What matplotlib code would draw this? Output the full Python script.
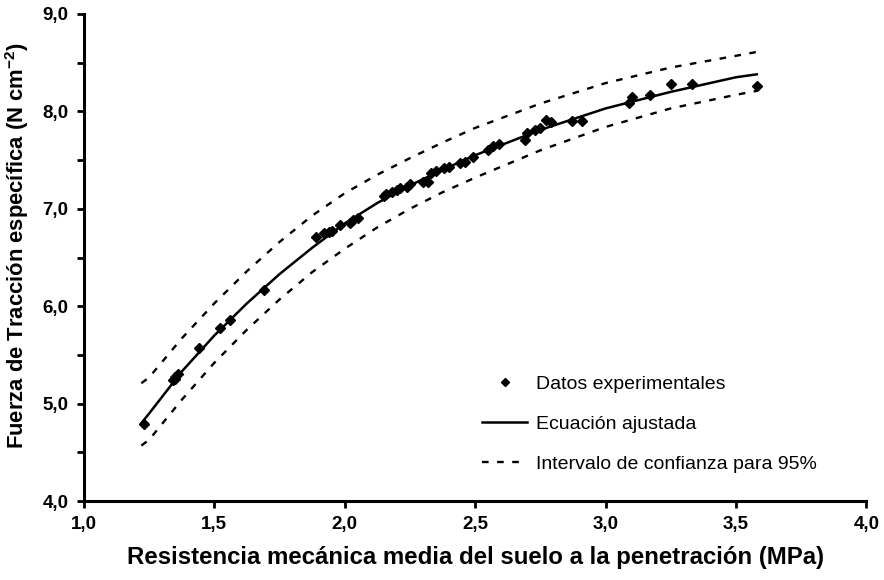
import numpy as np
import matplotlib
matplotlib.use('Agg')
import matplotlib.pyplot as plt
from matplotlib.ticker import MultipleLocator, FuncFormatter

plt.rcParams['font.family'] = ['Liberation Sans', 'DejaVu Sans']
plt.rcParams['mathtext.fontset'] = 'custom'
plt.rcParams['mathtext.bf'] = 'Liberation Sans:bold'

x_data = [1.23, 1.34, 1.35, 1.35, 1.36, 1.44, 1.52, 1.56, 1.69,
          1.89, 1.92, 1.94, 1.95, 1.98, 2.02, 2.03, 2.05,
          2.15, 2.16, 2.18, 2.20, 2.21, 2.24, 2.25, 2.30, 2.32,
          2.33, 2.35, 2.38, 2.40, 2.44, 2.46, 2.49, 2.55, 2.57, 2.59,
          2.69, 2.70, 2.73, 2.75, 2.77, 2.79, 2.87, 2.91,
          3.09, 3.10, 3.17, 3.25, 3.33, 3.58]
y_data = [4.79, 5.24, 5.27, 5.25, 5.30, 5.57, 5.78, 5.86, 6.17,
          6.71, 6.75, 6.76, 6.77, 6.83, 6.85, 6.89, 6.91,
          7.13, 7.15, 7.17, 7.19, 7.21, 7.22, 7.25, 7.27, 7.27,
          7.37, 7.39, 7.42, 7.43, 7.47, 7.48, 7.53, 7.60, 7.64, 7.67,
          7.71, 7.78, 7.81, 7.83, 7.91, 7.89, 7.90, 7.90,
          8.09, 8.15, 8.17, 8.28, 8.28, 8.26]

# fitted curve and 95% confidence limits
x_fit = [1.22, 1.25, 1.375, 1.5, 1.625, 1.75, 1.875, 2.0, 2.125, 2.25, 2.375,
         2.5, 2.75, 3.0, 3.25, 3.5, 3.58]
y_fit = [4.80, 4.90, 5.33, 5.70, 6.03, 6.33, 6.60, 6.85, 7.06, 7.24, 7.40,
         7.55, 7.81, 8.03, 8.20, 8.35, 8.38]
y_upper = [5.21, 5.27, 5.67, 6.03, 6.36, 6.66, 6.93, 7.16, 7.35, 7.52, 7.68,
           7.83, 8.08, 8.29, 8.45, 8.57, 8.61]
y_lower = [4.57, 4.63, 5.04, 5.42, 5.76, 6.07, 6.35, 6.59, 6.81, 7.00, 7.17,
           7.32, 7.60, 7.84, 8.03, 8.17, 8.21]

fig = plt.figure(figsize=(8.84, 5.80), dpi=100)
ax = fig.add_axes([0.095, 0.136, 0.885, 0.840])

dash = (0, (2.8, 3.6))
ax.plot(x_data, y_data, 'D', color='black', markersize=5, label='Datos experimentales')
ax.plot(x_fit, y_fit, '-', color='black', lw=1.8, label='Ecuación ajustada')
ax.plot(x_fit, y_upper, color='black', lw=1.7, linestyle=dash,
        label='Intervalo de confianza para 95%')
ax.plot(x_fit, y_lower, color='black', lw=1.7, linestyle=dash)

ax.set_xlim(1.0, 4.0)
ax.set_ylim(4.0, 9.0)
ax.xaxis.set_major_locator(MultipleLocator(0.5))
ax.yaxis.set_major_locator(MultipleLocator(1.0))
ax.yaxis.set_minor_locator(MultipleLocator(0.5))
fmt = FuncFormatter(lambda v, p: ('%.1f' % v).replace('.', ','))
ax.xaxis.set_major_formatter(fmt)
ax.yaxis.set_major_formatter(fmt)

for s in ['top', 'right']:
    ax.spines[s].set_visible(False)
for s in ['left', 'bottom']:
    ax.spines[s].set_linewidth(2.2)
ax.tick_params(which='both', direction='out', width=2, length=5)
ax.tick_params(axis='y', labelsize=13.5, pad=6)
ax.tick_params(axis='x', labelsize=13.5, pad=6)
for lab in ax.get_xticklabels() + ax.get_yticklabels():
    lab.set_fontweight('bold')

ax.set_xlabel('Resistencia mecánica media del suelo a la penetración (MPa)',
              fontsize=17.3, fontweight='bold', labelpad=9)
ax.set_ylabel('Fuerza de Tracción específica (N cm$^{\\mathbf{-2}}$)',
              fontsize=15.8, fontweight='bold')
ax.yaxis.set_label_coords(-0.068, 0.524)

leg = ax.legend(loc='upper left', bbox_to_anchor=(0.509, 0.258), frameon=False,
                fontsize=14, handlelength=2.3, handletextpad=0.45,
                labelspacing=1.15, borderpad=0, borderaxespad=0)
leg.legend_handles[0].set_markersize(4)

fig.savefig('out.png', dpi=100)
